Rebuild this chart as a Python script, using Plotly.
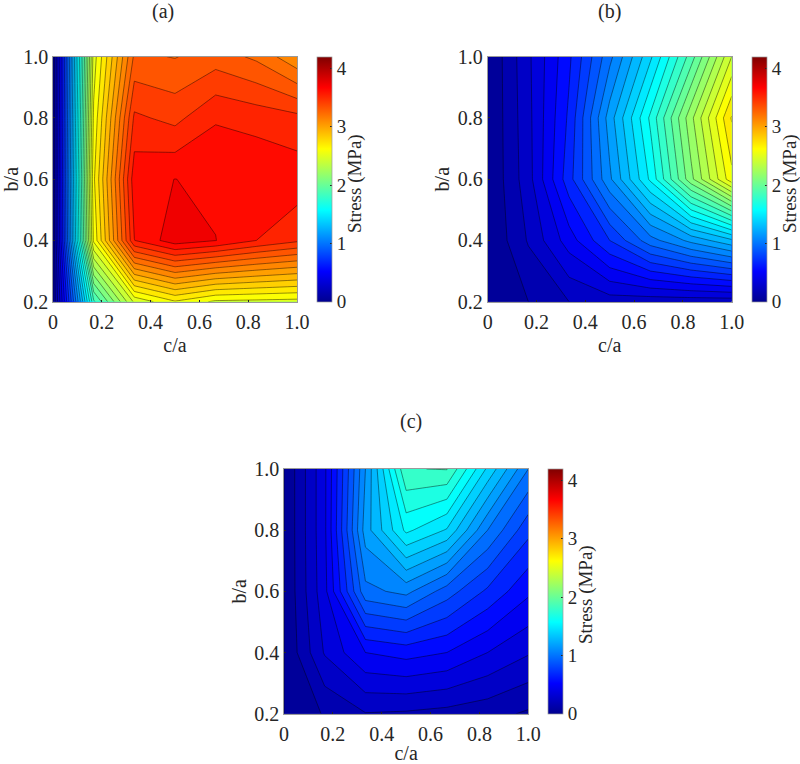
import plotly.graph_objects as go

c_over_a = [0, 1/6, 1/3, 1/2, 2/3, 5/6, 1]
b_over_a = [0.2, 0.4, 0.6, 0.8, 1.0]

stress_a = [
    [0.0, 1.78, 2.42, 2.59, 2.48, 2.47, 2.46],
    [0.0, 2.52, 3.498, 3.66, 3.602, 3.50, 3.42],
    [0.0, 2.58, 3.565, 3.601, 3.58, 3.59, 3.56],
    [0.0, 2.52, 3.42, 3.37, 3.49, 3.46, 3.43],
    [0.0, 2.45, 3.22, 3.195, 3.25, 3.18, 3.02],
]
stress_b = [
    [0.0, 0.10, 0.20, 0.25, 0.24, 0.24, 0.24],
    [0.0, 0.21, 0.45, 0.70, 0.96, 1.13, 1.28],
    [0.0, 0.26, 0.66, 1.08, 1.52, 2.07, 2.567],
    [0.0, 0.27, 0.62, 1.15, 1.62, 2.17, 2.71],
    [0.0, 0.28, 0.58, 0.97, 1.38, 1.85, 2.40],
]
stress_c = [
    [0.0, 0.11, 0.195, 0.185, 0.165, 0.136, 0.085],
    [0.0, 0.31, 0.50, 0.54, 0.50, 0.40, 0.31],
    [0.0, 0.37, 0.97, 1.03, 0.85, 0.68, 0.52],
    [0.0, 0.38, 1.15, 1.523, 1.39, 1.00, 0.73],
    [0.0, 0.38, 1.10, 1.795, 1.805, 1.38, 1.00],
]

x_ticks = [0, 0.2, 0.4, 0.6, 0.8, 1.0]
x_labels = ["0", "0.2", "0.4", "0.6", "0.8", "1.0"]
y_ticks = [0.2, 0.4, 0.6, 0.8, 1.0]
y_labels = ["0.2", "0.4", "0.6", "0.8", "1.0"]
cbar_ticks = [0, 1, 2, 3, 4]
panel_titles = ["(a)", "(b)", "(c)"]

W, H = 800, 764
FONT = "Liberation Serif"
INK = "#262626"
EDGE = "#9a9a9a"
JET = [[0, "rgb(0,0,143)"], [0.125, "rgb(0,0,255)"], [0.375, "rgb(0,255,255)"],
       [0.625, "rgb(255,255,0)"], [0.875, "rgb(255,0,0)"], [1, "rgb(128,0,0)"]]
# same map for the filled bands, arranged so that each band takes the colour of its upper level
JET_BANDS = [[0, "rgb(0,0,143)"], [0.122, "rgb(0,0,255)"], [0.366, "rgb(0,255,255)"],
             [0.61, "rgb(255,255,0)"], [0.855, "rgb(255,0,0)"], [0.977, "rgb(128,0,0)"],
             [1, "rgb(128,0,0)"]]

# pixel boxes: axes left/right/top/bottom, colourbar left, title x/y, colourbar label x/y
boxes = [
    dict(l=53, r=297, t=56.7, b=301.7, cb=317, tx=163, ty=11, sx=355, sy=184),
    dict(l=487.7, r=731.7, t=56.7, b=301.7, cb=752, tx=609, ty=11, sx=790, sy=184),
    dict(l=284, r=528.3, t=469, b=713.7, cb=548.3, tx=411, ty=421, sx=586, sy=595),
]

fig = go.Figure()
for i, (z, box, title) in enumerate(zip([stress_a, stress_b, stress_c], boxes, panel_titles)):
    suffix = "" if i == 0 else str(i + 1)
    xa, ya = "x" + suffix, "y" + suffix
    fig.add_trace(go.Heatmap(
        x=c_over_a, y=b_over_a, z=z, xaxis=xa, yaxis=ya,
        colorscale=JET, zmin=0, zmax=4.2, hoverinfo="skip",
        colorbar=dict(
            x=box["cb"] / W, xanchor="left", xpad=0, ypad=0,
            y=1 - box["b"] / H, yanchor="bottom",
            len=(box["b"] - box["t"]) / H, lenmode="fraction",
            thickness=15, thicknessmode="pixels",
            tickmode="array", tickvals=cbar_ticks, ticks="inside", ticklen=2,
            tickcolor=INK, tickfont=dict(family=FONT, size=19, color=INK),
            outlinecolor=EDGE, outlinewidth=0.7,
        ),
    ))
    fig.add_trace(go.Contour(
        x=c_over_a, y=b_over_a, z=z, xaxis=xa, yaxis=ya,
        colorscale=JET_BANDS, zmin=0, zmax=4.2, showscale=False,
        autocontour=False,
        contours=dict(start=0, end=4.2, size=0.1, coloring="fill", showlines=True),
        line=dict(color="rgba(0,0,0,0.85)", width=0.5, smoothing=0),
    ))
    common = dict(ticks="inside", ticklen=2, tickcolor=INK, showgrid=False, zeroline=False,
                  showline=True, mirror=True, linecolor=EDGE, linewidth=0.7,
                  tickfont=dict(family=FONT, size=20, color=INK), tickmode="array")
    fig.layout["xaxis" + suffix] = dict(
        domain=[box["l"] / W, box["r"] / W], range=[0, 1], anchor=ya,
        tickvals=x_ticks, ticktext=x_labels, ticklabelstandoff=2,
        title=dict(text="c/a", font=dict(family=FONT, size=20, color=INK), standoff=6), **common)
    fig.layout["yaxis" + suffix] = dict(
        domain=[1 - box["b"] / H, 1 - box["t"] / H], range=[0.2, 1], anchor=xa,
        tickvals=y_ticks, ticktext=y_labels,
        title=dict(text="b/a", font=dict(family=FONT, size=20, color=INK), standoff=2), **common)
    fig.add_annotation(text=title, xref="paper", yref="paper", x=box["tx"] / W, y=1 - box["ty"] / H,
                       xanchor="center", yanchor="middle",
                       showarrow=False, font=dict(family=FONT, size=20, color=INK))
    fig.add_annotation(text="Stress (MPa)", xref="paper", yref="paper", x=box["sx"] / W, y=1 - box["sy"] / H,
                       xanchor="center", yanchor="middle",
                       textangle=-90, showarrow=False, font=dict(family=FONT, size=19, color=INK))

fig.update_layout(width=W, height=H, margin=dict(l=0, r=0, t=0, b=0, autoexpand=False),
                  paper_bgcolor="white", plot_bgcolor="white", showlegend=False)
fig.write_html("out.html", config={"displayModeBar": False},
               post_script="document.body.style.margin='0';")
